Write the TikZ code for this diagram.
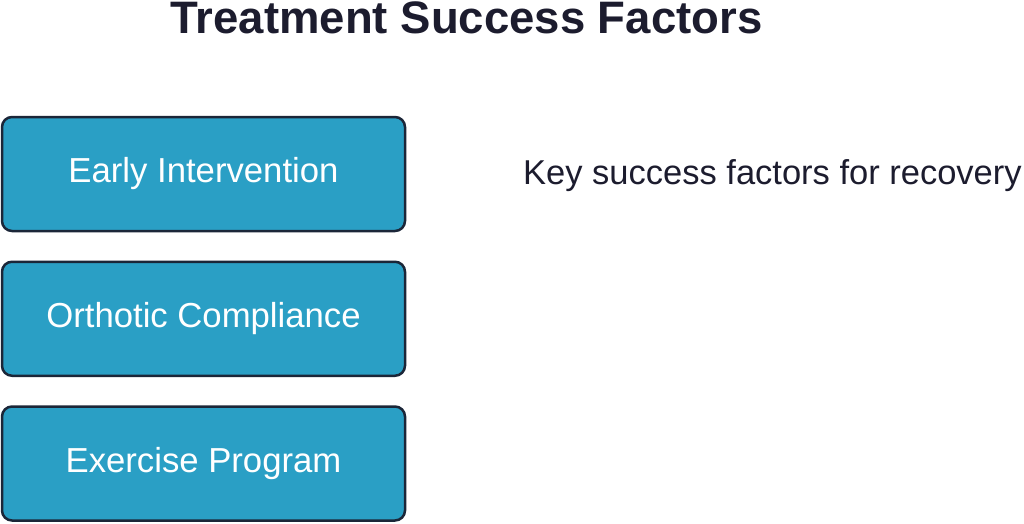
\documentclass[tikz,border=0pt]{standalone}
\usepackage{fontspec}
\setmainfont{Liberation Sans}
\definecolor{boxfill}{HTML}{2A9FC5}
\definecolor{boxline}{HTML}{1B2638}
\definecolor{inkdark}{HTML}{1C1C2E}
\tikzset{
  factorbox/.style={draw=boxline, fill=boxfill, line width=2.5pt, rounded corners=10pt,
    minimum width=403pt, minimum height=114pt, text=white, font=\fontsize{34.7}{40}\selectfont},
  plaintext/.style={inner sep=0pt, text=inkdark}
}
\begin{document}
\begin{tikzpicture}
    \useasboundingbox (0,0) rectangle (1024pt,-523pt);
    \node[plaintext, anchor=base, font=\bfseries\fontsize{45.5}{50}\selectfont] (title) at (466.5pt,-33pt) {Treatment Success Factors};

    \foreach \i/\t in {0/Early Intervention,1/Orthotic Compliance,2/Exercise Program} {
      \node[factorbox] (factor\i) at (203.5pt,-174pt-\i*144.75pt) {\t};
    }

    \node[plaintext, anchor=base west, font=\fontsize{34.5}{40}\selectfont] (caption) at (523pt,-184pt) {Key success factors for recovery};
  \end{tikzpicture}
\end{document}
